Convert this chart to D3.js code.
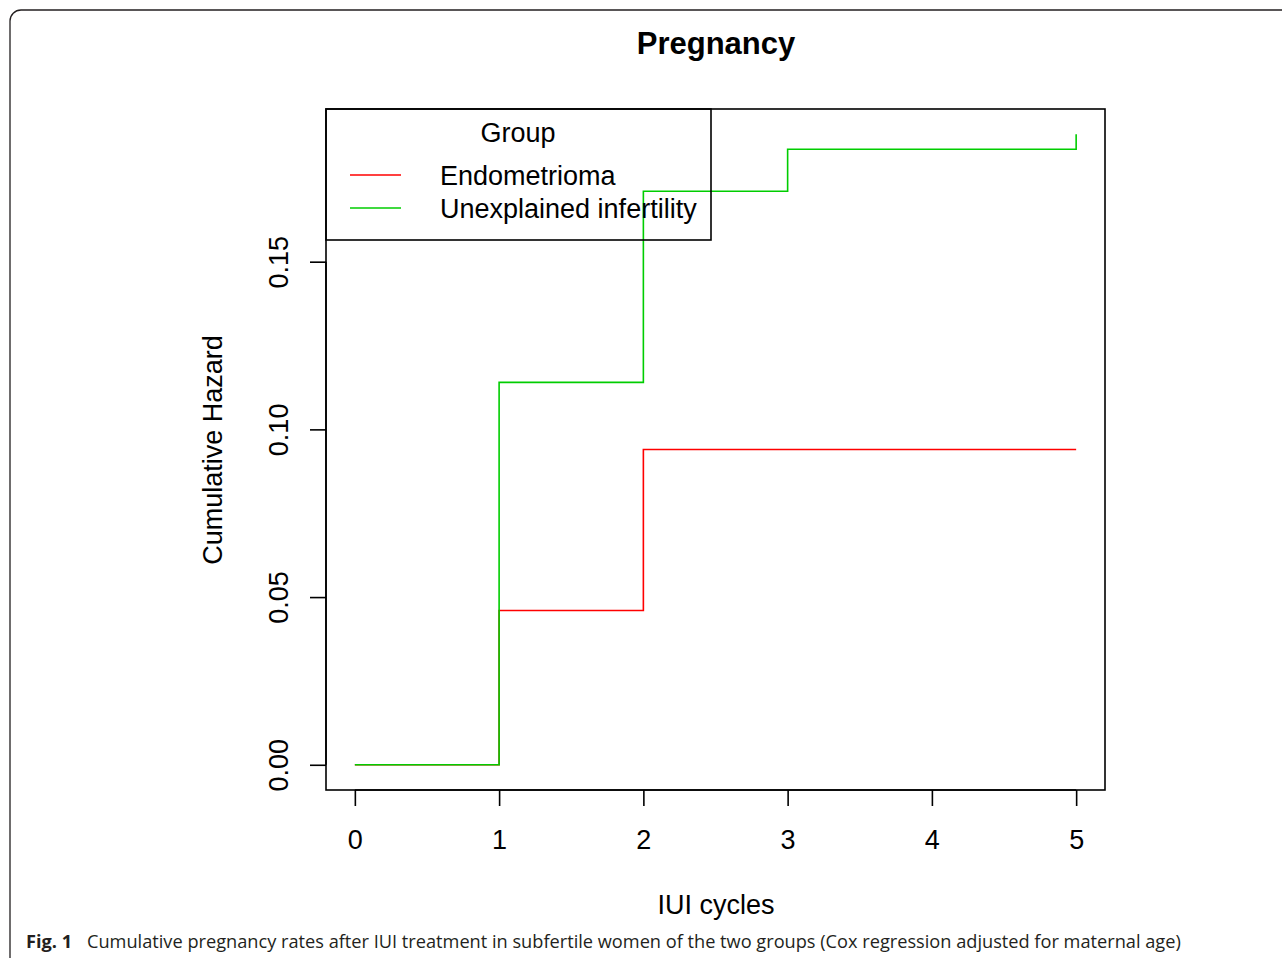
<!doctype html>
<html lang="en">
  <head>
    <meta charset="utf-8">
    <script src="https://cdn.jsdelivr.net/npm/d3@7"></script>
    <style>
      body {margin:0; background:#fff}
      svg {display:block}
      .r {font-family:"Liberation Sans", Arial, sans-serif}
      #caption {font-family:"Open Sans", "Noto Sans", sans-serif; fill:#231f20}
    </style>
    <title>Pregnancy</title>
  </head>
  <body>
    <script>
      // step points: [IUI cycle, cumulative hazard]
      let endoX = [0, 1, 2, 5];
      let endoY = [0, 0.046, 0.094, 0.094];
      let unexX = [0, 1, 2, 3, 5, 5];
      let unexY = [0, 0.114, 0.171, 0.1835, 0.1835, 0.188];
      let xTicks = [0, 1, 2, 3, 4, 5];
      let yTicks = [0, 0.05, 0.10, 0.15];
      let groups = ["Endometrioma", "Unexplained infertility"];
      let colors = ["#ff0000", "#00cd00"];

      let W = 1282, H = 958;
      let box = {left:326, right:1105, top:109, bottom:790};

      // R style 4% padding on the data range
      let xMin = 0, xMax = 5;
      let yMin = 0, yMax = d3.max(unexY);
      let xPad = (xMax - xMin) * 0.04, yPad = (yMax - yMin) * 0.04;

      let x = d3.scaleLinear().domain([xMin - xPad, xMax + xPad]).range([box.left, box.right]);
      let y = d3.scaleLinear().domain([yMin - yPad, yMax + yPad]).range([box.bottom, box.top]);

      let svg = d3.select("body").append("svg").attr("width", W).attr("height", H);

      // outer figure frame (runs off the page right/bottom)
      svg.append("rect")
        .attr("x", 10).attr("y", 10).attr("width", 1400).attr("height", 1100)
        .attr("rx", 11).attr("fill", "none").attr("stroke", "#231f20").attr("stroke-width", 1.3);

      let g = svg.append("g").attr("class", "r");

      g.append("text")
        .attr("x", 716).attr("y", 54)
        .attr("text-anchor", "middle").attr("font-size", "31px").attr("font-weight", "bold")
        .text("Pregnancy");

      // step lines (red first, green drawn over it)
      let stepLine = d3.line().x(d => x(d[0])).y(d => y(d[1])).curve(d3.curveStepAfter);
      let series = [d3.zip(endoX, endoY), d3.zip(unexX, unexY)];
      series.forEach((s, i) => {
        g.append("path")
          .datum(s)
          .attr("d", stepLine)
          .attr("fill", "none")
          .attr("stroke", colors[i])
          .attr("stroke-width", 1.6);
      });

      // axes
      let xAxis = d3.axisBottom(x).tickValues(xTicks).tickSize(16).tickFormat(d3.format("d"));
      let yAxis = d3.axisLeft(y).tickValues(yTicks).tickSize(16).tickFormat(d3.format(".2f"));

      let gx = g.append("g").attr("transform", "translate(0," + box.bottom + ")").call(xAxis);
      gx.select(".domain").attr("d", "M" + x(0) + ",0H" + x(5));
      gx.selectAll("text").attr("font-size", "27px").attr("fill", "#000").attr("font-family", "inherit")
        .attr("y", 0).attr("dy", "59px");

      let gy = g.append("g").attr("transform", "translate(" + box.left + ",0)").call(yAxis);
      gy.select(".domain").attr("d", "M0," + y(0) + "V" + y(0.15));
      gy.selectAll("text").attr("font-size", "27px").attr("fill", "#000").attr("font-family", "inherit")
        .attr("text-anchor", "middle").attr("x", null).attr("dy", null)
        .attr("transform", "translate(-38,0) rotate(-90)");
      [gx, gy].forEach(a => {
        a.selectAll("line, path").attr("stroke", "#000").attr("stroke-width", 1.6);
      });

      // plot box
      g.append("rect")
        .attr("x", box.left).attr("y", box.top)
        .attr("width", box.right - box.left).attr("height", box.bottom - box.top)
        .attr("fill", "none").attr("stroke", "#000").attr("stroke-width", 1.6);

      // axis titles
      g.append("text")
        .attr("x", 716).attr("y", 914)
        .attr("text-anchor", "middle").attr("font-size", "27px")
        .text("IUI cycles");
      g.append("text")
        .attr("transform", "translate(222,450) rotate(-90)")
        .attr("text-anchor", "middle").attr("font-size", "27px")
        .text("Cumulative Hazard");

      // legend
      let lg = g.append("g");
      lg.append("rect")
        .attr("x", box.left).attr("y", box.top).attr("width", 385).attr("height", 131)
        .attr("fill", "none").attr("stroke", "#000").attr("stroke-width", 1.6);
      lg.append("text")
        .attr("x", 518).attr("y", 142).attr("text-anchor", "middle").attr("font-size", "27px")
        .text("Group");
      groups.forEach((name, i) => {
        let yy = 175 + i * 33;
        lg.append("line")
          .attr("x1", 350).attr("x2", 401).attr("y1", yy).attr("y2", yy)
          .attr("stroke", colors[i]).attr("stroke-width", 1.6);
        lg.append("text")
          .attr("x", 440).attr("y", yy + 10).attr("font-size", "27px")
          .text(name);
      });

      // figure caption
      let cap = svg.append("text").attr("id", "caption").attr("x", 26).attr("y", 948).attr("font-size", "18.2px");
      cap.append("tspan").attr("font-weight", "bold").text("Fig. 1");
      cap.append("tspan").attr("x", 87)
        .text("Cumulative pregnancy rates after IUI treatment in subfertile women of the two groups (Cox regression adjusted for maternal age)");
    </script>
  </body>
</html>
